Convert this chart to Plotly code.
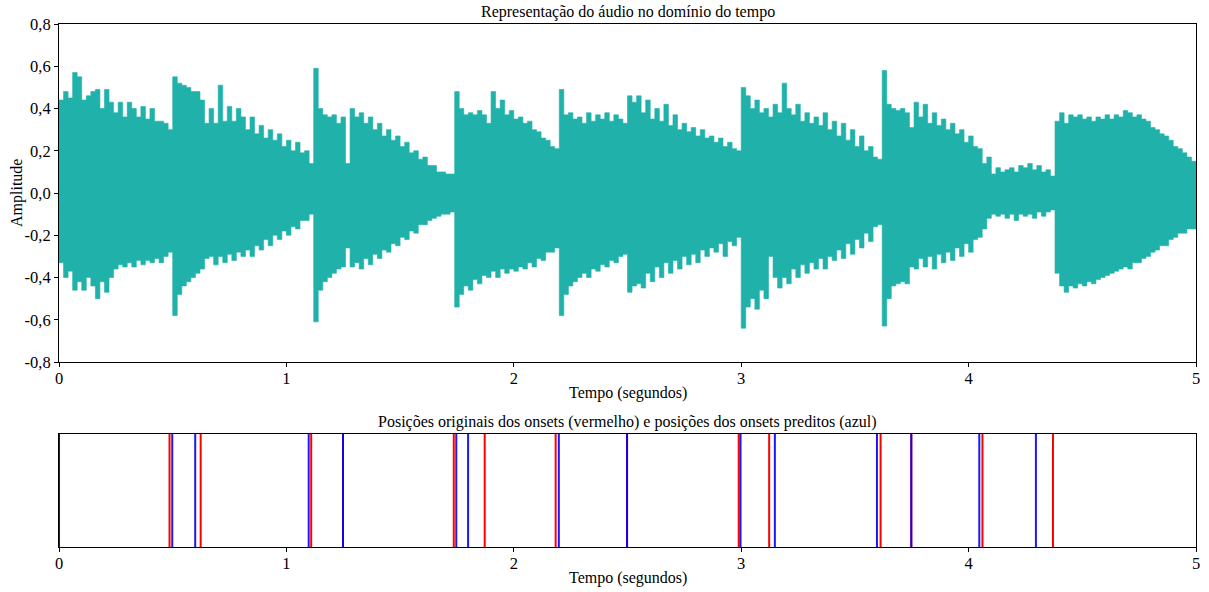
import numpy as np
import plotly.graph_objects as go

# ---------------- data ----------------
DT = 0.02  # envelope step (s)
env_upper = [
    0.44, 0.48, 0.45, 0.57, 0.55, 0.44, 0.46, 0.48, 0.49, 0.40,
    0.49, 0.43, 0.38, 0.43, 0.36, 0.43, 0.40, 0.36, 0.41, 0.35,
    0.40, 0.34, 0.34, 0.33, 0.30, 0.55, 0.52, 0.51, 0.50, 0.48,
    0.48, 0.44, 0.33, 0.40, 0.33, 0.51, 0.34, 0.41, 0.34, 0.40,
    0.36, 0.30, 0.36, 0.28, 0.32, 0.26, 0.30, 0.25, 0.28, 0.22,
    0.25, 0.20, 0.24, 0.19, 0.20, 0.14, 0.59, 0.40, 0.37, 0.36,
    0.37, 0.33, 0.36, 0.14, 0.40, 0.36, 0.38, 0.33, 0.36, 0.30,
    0.33, 0.27, 0.30, 0.25, 0.27, 0.22, 0.24, 0.19, 0.20, 0.16,
    0.17, 0.13, 0.13, 0.10, 0.10, 0.09, 0.09, 0.48, 0.40, 0.37,
    0.38, 0.37, 0.39, 0.37, 0.33, 0.48, 0.40, 0.44, 0.37, 0.39,
    0.35, 0.36, 0.33, 0.34, 0.30, 0.29, 0.26, 0.25, 0.22, 0.21,
    0.49, 0.37, 0.38, 0.35, 0.36, 0.33, 0.38, 0.34, 0.37, 0.35,
    0.38, 0.34, 0.37, 0.35, 0.33, 0.46, 0.43, 0.46, 0.38, 0.44,
    0.35, 0.40, 0.34, 0.42, 0.32, 0.37, 0.30, 0.33, 0.29, 0.31,
    0.27, 0.30, 0.26, 0.27, 0.24, 0.26, 0.22, 0.24, 0.21, 0.20,
    0.50, 0.46, 0.40, 0.44, 0.38, 0.40, 0.36, 0.42, 0.38, 0.52,
    0.40, 0.37, 0.42, 0.34, 0.38, 0.33, 0.36, 0.32, 0.38, 0.30,
    0.34, 0.27, 0.33, 0.25, 0.30, 0.22, 0.27, 0.20, 0.22, 0.17,
    0.16, 0.58, 0.42, 0.40, 0.39, 0.40, 0.38, 0.31, 0.43, 0.36,
    0.42, 0.33, 0.38, 0.32, 0.35, 0.30, 0.33, 0.28, 0.30, 0.24,
    0.27, 0.22, 0.21, 0.14, 0.17, 0.09, 0.12, 0.10, 0.11, 0.12,
    0.10, 0.13, 0.12, 0.14, 0.11, 0.13, 0.10, 0.11, 0.08, 0.34,
    0.38, 0.33, 0.37, 0.36, 0.37, 0.35, 0.36, 0.34, 0.36, 0.35,
    0.37, 0.35, 0.37, 0.36, 0.39, 0.38, 0.36, 0.37, 0.35, 0.34,
    0.31, 0.30, 0.28, 0.27, 0.25, 0.22, 0.21, 0.19, 0.17, 0.15,
    0.14,
]
env_lower = [
    -0.33, -0.40, -0.37, -0.46, -0.42, -0.46, -0.40, -0.44, -0.50, -0.42,
    -0.47, -0.40, -0.36, -0.34, -0.35, -0.33, -0.35, -0.32, -0.34, -0.32,
    -0.33, -0.31, -0.33, -0.30, -0.28, -0.58, -0.48, -0.44, -0.42, -0.40,
    -0.38, -0.36, -0.31, -0.30, -0.34, -0.30, -0.33, -0.29, -0.32, -0.28,
    -0.30, -0.27, -0.30, -0.25, -0.27, -0.22, -0.25, -0.20, -0.22, -0.18,
    -0.20, -0.16, -0.17, -0.13, -0.13, -0.10, -0.61, -0.46, -0.42, -0.40,
    -0.38, -0.36, -0.35, -0.26, -0.35, -0.33, -0.36, -0.31, -0.34, -0.29,
    -0.31, -0.27, -0.28, -0.24, -0.25, -0.21, -0.22, -0.18, -0.19, -0.15,
    -0.15, -0.13, -0.12, -0.11, -0.10, -0.10, -0.09, -0.54, -0.48, -0.44,
    -0.46, -0.41, -0.43, -0.39, -0.40, -0.37, -0.40, -0.36, -0.38, -0.36,
    -0.37, -0.35, -0.36, -0.33, -0.35, -0.31, -0.32, -0.28, -0.28, -0.26,
    -0.58, -0.48, -0.44, -0.42, -0.40, -0.38, -0.40, -0.36, -0.37, -0.34,
    -0.35, -0.32, -0.33, -0.30, -0.29, -0.47, -0.44, -0.43, -0.45, -0.38,
    -0.42, -0.35, -0.40, -0.33, -0.38, -0.32, -0.36, -0.30, -0.34, -0.29,
    -0.33, -0.27, -0.30, -0.26, -0.28, -0.24, -0.30, -0.23, -0.25, -0.21,
    -0.64, -0.54, -0.50, -0.55, -0.46, -0.50, -0.30, -0.40, -0.45, -0.40,
    -0.43, -0.36, -0.40, -0.34, -0.38, -0.33, -0.36, -0.31, -0.36, -0.30,
    -0.32, -0.27, -0.31, -0.24, -0.29, -0.22, -0.26, -0.19, -0.23, -0.16,
    -0.15, -0.63, -0.50, -0.44, -0.43, -0.42, -0.43, -0.35, -0.36, -0.31,
    -0.35, -0.30, -0.36, -0.29, -0.33, -0.28, -0.32, -0.26, -0.30, -0.24,
    -0.28, -0.22, -0.21, -0.17, -0.12, -0.10, -0.11, -0.10, -0.12, -0.10,
    -0.13, -0.10, -0.11, -0.10, -0.12, -0.09, -0.11, -0.09, -0.08, -0.38,
    -0.44, -0.47, -0.44, -0.45, -0.43, -0.44, -0.42, -0.43, -0.41, -0.40,
    -0.39, -0.38, -0.37, -0.36, -0.35, -0.36, -0.33, -0.33, -0.31, -0.30,
    -0.28, -0.27, -0.25, -0.25, -0.22, -0.21, -0.19, -0.19, -0.17, -0.17,
    -0.16,
]
onsets_original = [0.0, 0.486, 0.623, 1.109, 1.249, 1.736, 1.872, 2.184,
                   2.498, 2.989, 3.123, 3.613, 3.748, 4.061, 4.371]
onsets_predicted = [0.0, 0.498, 0.599, 1.098, 1.249, 1.747, 1.799, 2.198,
                    2.498, 2.997, 3.148, 3.597, 3.748, 4.047, 4.296]
x_ticks = [0, 1, 2, 3, 4, 5]
x_ticklabels = ["0", "1", "2", "3", "4", "5"]
y_ticks = [-0.8, -0.6, -0.4, -0.2, 0.0, 0.2, 0.4, 0.6, 0.8]
y_ticklabels = ["-0,8", "-0,6", "-0,4", "-0,2", "0,0", "0,2", "0,4", "0,6", "0,8"]

n = min(len(env_upper), len(env_lower))
times = np.round(np.arange(n) * DT, 3)

WAVE = "#20B2AA"
FONT = "Liberation Serif, Times New Roman, serif"

fig = go.Figure()
fig.add_trace(go.Scatter(x=times, y=env_lower[:n], mode="lines", line=dict(width=0.6, color=WAVE, shape="hv"),
                         xaxis="x", yaxis="y", showlegend=False, hoverinfo="skip"))
fig.add_trace(go.Scatter(x=times, y=env_upper[:n], mode="lines", line=dict(width=0.6, color=WAVE, shape="hv"),
                         fill="tonexty", fillcolor=WAVE, xaxis="x", yaxis="y", showlegend=False, hoverinfo="skip"))


def vlines(ts):
    xs, ys = [], []
    for t in ts:
        xs += [t, t, None]
        ys += [0, 1, None]
    return xs, ys


xr, yr = vlines(onsets_original)
xb, yb = vlines(onsets_predicted)
fig.add_trace(go.Scatter(x=xr, y=yr, mode="lines", line=dict(color="red", width=2),
                         xaxis="x2", yaxis="y2", showlegend=False))
fig.add_trace(go.Scatter(x=xb, y=yb, mode="lines", line=dict(color="blue", width=2),
                         xaxis="x2", yaxis="y2", showlegend=False, opacity=0.9))

axis_common = dict(showline=True, mirror=True, linecolor="black", linewidth=1,
                   ticks="outside", ticklen=4, tickwidth=1, tickcolor="black",
                   showgrid=False, zeroline=False, automargin=False,
                   tickfont=dict(family=FONT, size=16.5, color="black"))

PLOT_TOP, PLOT_BOTTOM = 24, 547  # pixel rows of the plotting region


def paper_y(px):
    return (PLOT_BOTTOM - px) / (PLOT_BOTTOM - PLOT_TOP)


title_font = dict(family=FONT, size=16, color="black")
label_font = dict(family=FONT, size=16, color="black")

fig.update_layout(
    width=1209, height=592,
    margin=dict(l=59, r=13, t=PLOT_TOP, b=592 - PLOT_BOTTOM),
    paper_bgcolor="white", plot_bgcolor="white",
    font=dict(family=FONT, size=16, color="black"),
    xaxis=dict(domain=[0, 1], range=[0, 5], anchor="y", tickvals=x_ticks, ticktext=x_ticklabels,
               ticklabelstandoff=-3, **axis_common),
    yaxis=dict(domain=[paper_y(362), 1], range=[-0.8, 0.8], anchor="x", tickvals=y_ticks,
               ticktext=y_ticklabels, **axis_common),
    xaxis2=dict(domain=[0, 1], range=[0, 5], anchor="y2", tickvals=x_ticks, ticktext=x_ticklabels,
                ticklabelstandoff=-3, **axis_common),
    yaxis2=dict(domain=[0, paper_y(434)], range=[0, 1], anchor="x2", showticklabels=False,
                showline=True, mirror=True, linecolor="black", linewidth=1, ticks="",
                showgrid=False, zeroline=False, automargin=False),
    annotations=[
        dict(text="Representação do áudio no domínio do tempo", x=0.5, y=1.0, xref="paper", yref="paper",
             xanchor="center", yanchor="bottom", yshift=1, showarrow=False, font=title_font),
        dict(text="Posições originais dos onsets (vermelho) e posições dos onsets preditos (azul)",
             x=0.5, y=paper_y(434), xref="paper", yref="paper", xanchor="center", yanchor="bottom", yshift=1,
             showarrow=False, font=title_font),
        dict(text="Tempo (segundos)", x=0.5, y=paper_y(393), xref="paper", yref="paper",
             xanchor="center", yanchor="middle", showarrow=False, font=label_font),
        dict(text="Tempo (segundos)", x=0.5, y=paper_y(578), xref="paper", yref="paper",
             xanchor="center", yanchor="middle", showarrow=False, font=label_font),
        dict(text="Amplitude", x=0, y=paper_y(193), xref="paper", yref="paper", xshift=-42,
             xanchor="center", yanchor="middle", textangle=-90, showarrow=False, font=label_font),
    ],
)

fig.write_html("out.html", config={"displayModeBar": False},
               post_script="document.body.style.margin='0px';document.body.style.overflow='hidden';")
